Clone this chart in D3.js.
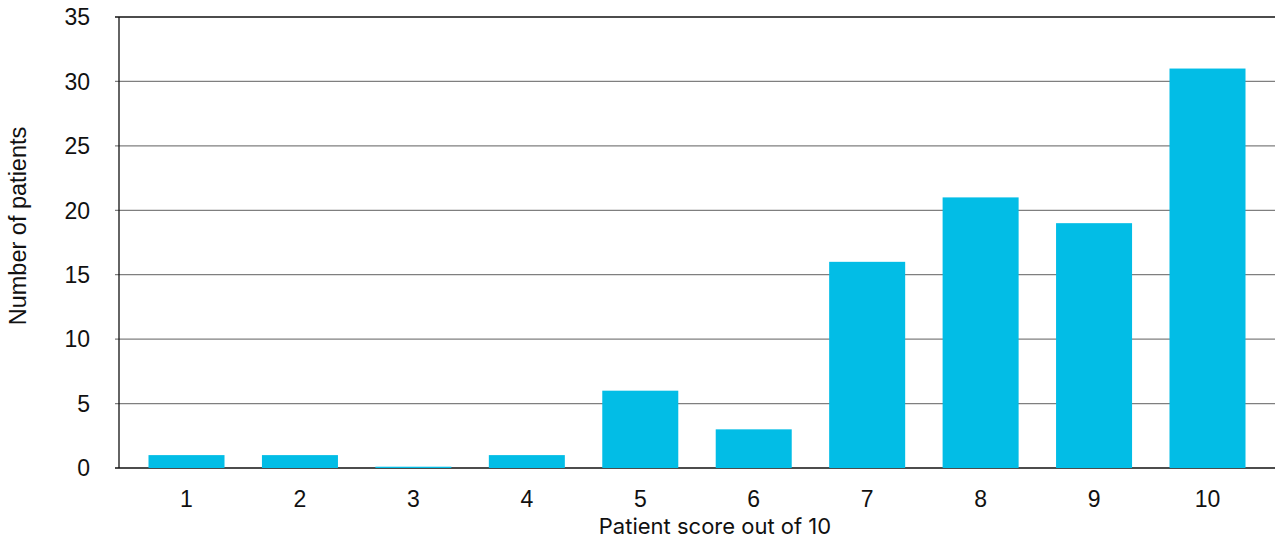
<!DOCTYPE html>
<html>
<head>
<meta charset="utf-8">
<script src="https://cdn.jsdelivr.net/npm/d3@7"></script>
<style>
  body { margin: 0; background: #fff; }
  svg { display: block; }
</style>
</head>
<body>
<svg id="svg" width="1275" height="538"></svg>
<script>
const categories = ["1", "2", "3", "4", "5", "6", "7", "8", "9", "10"];
const patients = [1, 1, 0.1, 1, 6, 3, 16, 21, 19, 31];
const yTicks = [0, 5, 10, 15, 20, 25, 30, 35];

const svg = d3.select("#svg");
const LEFT = 119, RIGHT = 1275, TOP = 17, BOTTOM = 468;

const x = d3.scaleBand().domain(categories).range([LEFT, RIGHT])
	.paddingInner(0.33).paddingOuter(0.26);
const y = d3.scaleLinear().domain([0, 35]).range([BOTTOM, TOP]);

// gridlines
svg.append("g")
	.selectAll("line")
	.data(yTicks)
	.join("line")
	.attr("x1", LEFT - 4)
	.attr("x2", RIGHT)
	.attr("y1", (d) => y(d))
	.attr("y2", (d) => y(d))
	.attr("stroke", (d) => (d === 0 || d === 35 ? "#111" : "#7f7f7f"))
	.attr("stroke-width", (d) => (d === 0 || d === 35 ? 1.6 : 1.3));

// bars
svg.append("g")
	.selectAll("rect")
	.data(patients)
	.join("rect")
	.attr("x", (d, i) => x(categories[i]))
	.attr("y", (d) => y(d))
	.attr("width", x.bandwidth())
	.attr("height", (d) => BOTTOM - y(d))
	.attr("fill", "#02bde6");

// y axis line
svg.append("line")
	.attr("x1", LEFT).attr("x2", LEFT)
	.attr("y1", TOP).attr("y2", BOTTOM)
	.attr("stroke", "#111").attr("stroke-width", 1.3);

// y tick labels
svg.append("g")
	.selectAll("text")
	.data(yTicks)
	.join("text")
	.attr("x", 90)
	.attr("y", (d) => y(d))
	.attr("dy", "0.36em")
	.attr("text-anchor", "end")
	.attr("font-family", "Liberation Sans, Arial, sans-serif")
	.attr("font-size", 23)
	.attr("fill", "#111")
	.text((d) => d);

// x tick labels
svg.append("g")
	.selectAll("text")
	.data(categories)
	.join("text")
	.attr("x", (d) => x(d) + x.bandwidth() / 2)
	.attr("y", 499)
	.attr("dy", "0.36em")
	.attr("text-anchor", "middle")
	.attr("font-family", "Liberation Sans, Arial, sans-serif")
	.attr("font-size", 23)
	.attr("fill", "#111")
	.text((d) => d);

// axis titles
svg.append("text")
	.attr("x", 715)
	.attr("y", 526)
	.attr("dy", "0.36em")
	.attr("text-anchor", "middle")
	.attr("font-family", "Inter, Roboto, sans-serif")
	.attr("font-size", 22)
	.attr("fill", "#111")
	.text("Patient score out of 10");

svg.append("text")
	.attr("transform", "translate(18,226) rotate(-90)")
	.attr("dy", "0.36em")
	.attr("text-anchor", "middle")
	.attr("font-family", "Liberation Sans, Arial, sans-serif")
	.attr("font-size", 23.5)
	.attr("fill", "#111")
	.text("Number of patients");
</script>
</body>
</html>
